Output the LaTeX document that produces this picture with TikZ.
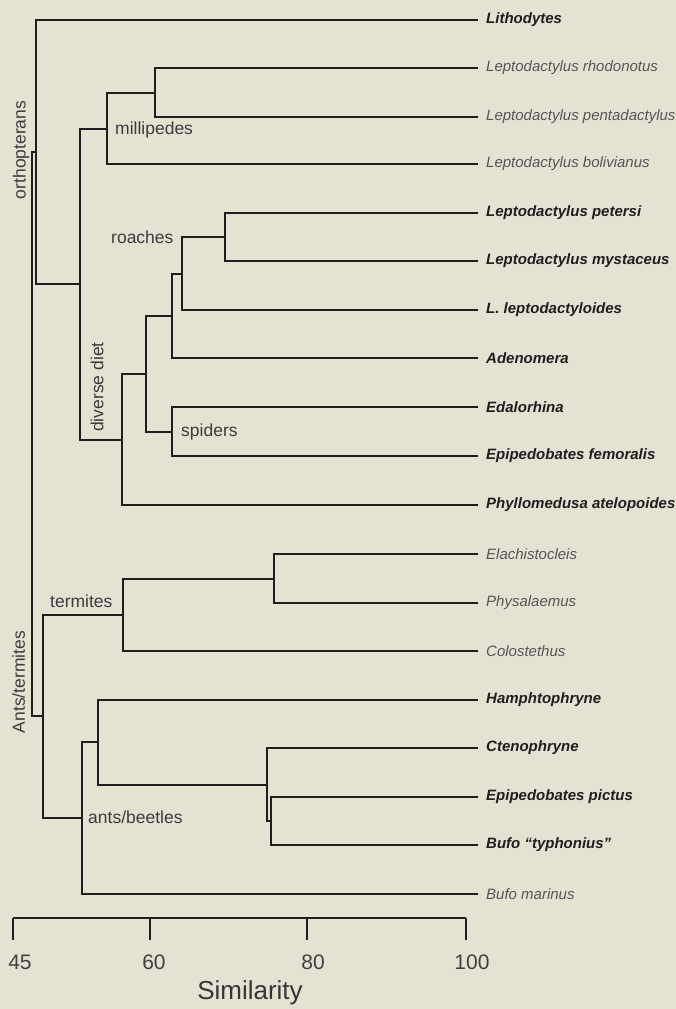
\documentclass[tikz,border=0pt]{standalone}
\usepackage{fontspec}
\setmainfont{Liberation Sans}
\definecolor{bg}{RGB}{229,226,211}
\definecolor{ink}{RGB}{30,30,30}
\definecolor{lightink}{RGB}{85,85,85}
\definecolor{cladeink}{RGB}{60,60,60}
\begin{document}
\begin{tikzpicture}[x=1pt,y=-1pt,
  branch/.style={draw=ink,line width=1.3pt,line join=miter},
  taxon/.style={anchor=west,inner sep=0pt,font=\fontsize{15}{18}\selectfont\itshape,text=lightink},
  boldtaxon/.style={anchor=west,inner sep=0pt,font=\fontsize{15}{18}\selectfont\bfseries\itshape,text=ink},
  clade/.style={anchor=west,inner sep=0pt,font=\fontsize{17.5}{20}\selectfont,text=cladeink},
  vclade/.style={inner sep=0pt,rotate=90,font=\fontsize{17.5}{20}\selectfont,text=cladeink},
  ticklabel/.style={inner sep=0pt,font=\fontsize{21}{24}\selectfont,text=ink!85},
  axisline/.style={draw=ink,line width=1.8pt}]
\fill[bg] (0,0) rectangle (676,1009);
\useasboundingbox (0,0) rectangle (676,1009);

% leaf ends
\foreach \n/\y in {1/20,2/68,3/117,4/164,5/213,6/261,7/310,8/358,9/407,10/456,11/505,12/554,13/603,14/651,15/700,16/748,17/797,18/845,19/894}
  \coordinate (L\n) at (478,\y);

% leaf labels
\node[boldtaxon] (t1) at (486,20) {Lithodytes};
\node[taxon] (t2) at (486,68) {Leptodactylus rhodonotus};
\node[taxon] (t3) at (486,117) {Leptodactylus pentadactylus};
\node[taxon] (t4) at (486,164) {Leptodactylus bolivianus};
\node[boldtaxon] (t5) at (486,213) {Leptodactylus petersi};
\node[boldtaxon] (t6) at (486,261) {Leptodactylus mystaceus};
\node[boldtaxon] (t7) at (486,310) {L. leptodactyloides};
\node[boldtaxon] (t8) at (486,358) {Adenomera};
\node[boldtaxon] (t9) at (486,407) {Edalorhina};
\node[boldtaxon] (t10) at (486,456) {Epipedobates femoralis};
\node[boldtaxon] (t11) at (486,505) {Phyllomedusa atelopoides};
\node[taxon] (t12) at (486,554) {Elachistocleis};
\node[taxon] (t13) at (486,603) {Physalaemus};
\node[taxon] (t14) at (486,651) {Colostethus};
\node[boldtaxon] (t15) at (486,700) {Hamphtophryne};
\node[boldtaxon] (t16) at (486,748) {Ctenophryne};
\node[boldtaxon] (t17) at (486,797) {Epipedobates pictus};
\node[boldtaxon] (t18) at (486,845) {Bufo ``typhonius''};
\node[taxon] (t19) at (486,894) {Bufo marinus};

% internal nodes
\coordinate (n1) at (155,93);
\coordinate (n2) at (107,129);
\coordinate (n3) at (225,237);
\coordinate (n4) at (182,274);
\coordinate (n5) at (172,316);
\coordinate (n6) at (172,432);
\coordinate (n7) at (146,374);
\coordinate (n8) at (122,440);
\coordinate (n9) at (80,284);
\coordinate (n10) at (36,152);
\coordinate (n11) at (274,579);
\coordinate (n12) at (123,615);
\coordinate (n13) at (271,821);
\coordinate (n14) at (267,785);
\coordinate (n15) at (98,742);
\coordinate (n16) at (82,818);
\coordinate (n17) at (43,716);
\coordinate (root) at (32,434);

% branches
\draw[branch] (n1) |- (L2);  \draw[branch] (n1) |- (L3);
\draw[branch] (n2) |- (n1);  \draw[branch] (n2) |- (L4);
\draw[branch] (n3) |- (L5);  \draw[branch] (n3) |- (L6);
\draw[branch] (n4) |- (n3);  \draw[branch] (n4) |- (L7);
\draw[branch] (n5) |- (n4);  \draw[branch] (n5) |- (L8);
\draw[branch] (n6) |- (L9);  \draw[branch] (n6) |- (L10);
\draw[branch] (n7) |- (n5);  \draw[branch] (n7) |- (n6);
\draw[branch] (n8) |- (n7);  \draw[branch] (n8) |- (L11);
\draw[branch] (n9) |- (n2);  \draw[branch] (n9) |- (n8);
\draw[branch] (n10) |- (L1); \draw[branch] (n10) |- (n9);
\draw[branch] (n11) |- (L12); \draw[branch] (n11) |- (L13);
\draw[branch] (n12) |- (n11); \draw[branch] (n12) |- (L14);
\draw[branch] (n13) |- (L17); \draw[branch] (n13) |- (L18);
\draw[branch] (n14) |- (L16); \draw[branch] (n14) |- (n13);
\draw[branch] (n15) |- (L15); \draw[branch] (n15) |- (n14);
\draw[branch] (n16) |- (n15); \draw[branch] (n16) |- (L19);
\draw[branch] (n17) |- (n12); \draw[branch] (n17) |- (n16);
\draw[branch] (root) |- (n10); \draw[branch] (root) |- (n17);

% clade labels
\node[vclade] (c1) at (21,150) {orthopterans};
\node[clade] (c2) at (115,130) {millipedes};
\node[clade] (c3) at (111,237) {roaches};
\node[vclade] (c4) at (97,387) {diverse diet};
\node[clade] (c5) at (181,432) {spiders};
\node[clade] (c6) at (50,601) {termites};
\node[vclade] (c7) at (18.5,682) {Ants/termites};
\node[clade] (c8) at (88,817) {ants/beetles};

% axis
\coordinate (a45) at (13,918);
\coordinate (a60) at (150,918);
\coordinate (a80) at (307,918);
\coordinate (a100) at (466,918);
\draw[axisline] (a45) -- (a100);
\foreach \t in {a45,a60,a80,a100}
  \draw[axisline] (\t) -- ++(0,22);
\node[ticklabel] (l45) at (20,962) {45};
\node[ticklabel] (l60) at (154,962) {60};
\node[ticklabel] (l80) at (313,962) {80};
\node[ticklabel] (l100) at (472,962) {100};
\node[inner sep=0pt,font=\fontsize{26}{30}\selectfont,text=ink!90] (sim) at (250,993) {Similarity};
\end{tikzpicture}
\end{document}
